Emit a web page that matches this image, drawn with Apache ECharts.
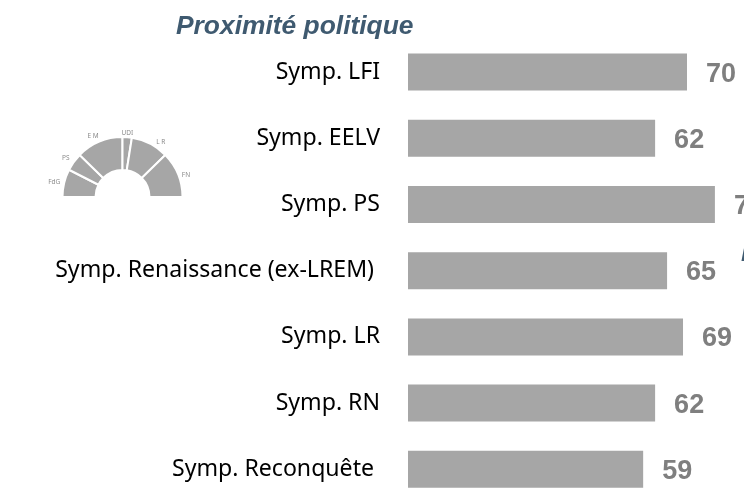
<!DOCTYPE html>
<html><head><meta charset="utf-8">
<style>html,body{margin:0;padding:0;background:#fff}#c{width:744px;height:490px}</style>
<script src="https://cdn.jsdelivr.net/npm/echarts@6/dist/echarts.min.js"></script>
</head><body><div id="c"></div>
<script>
const categories=["Symp. LFI","Symp. EELV","Symp. PS","Symp. Renaissance (ex-LREM)","Symp. LR","Symp. RN","Symp. Reconquête"];
const values=[70,62,77,65,69,62,59];
const labelShift=[0,0,0,6,0,0,6];
const partyNames=["FdG","PS","E M","UDI","L R","FN"];
const partySeats=[27,17.5,45.5,9,36.5,44.5];
const partyLabelNudge=[[5,0],[4,-1],[6,-2],[-11,0],[-7,-5],[0,2]];
const chart=echarts.init(document.getElementById('c'),null,{renderer:'canvas'});
const titleStyle={fontFamily:'Liberation Sans',fontSize:26.4,fontWeight:'bold',fontStyle:'italic',color:'#3f5a70'};
chart.setOption({
 animation:false,
 backgroundColor:'#fff',
 title:[
  {text:'Proximité politique',left:171,top:9,textStyle:titleStyle},
  {text:'P',left:736,top:236,textStyle:titleStyle}
 ],
 grid:{left:408,top:39,width:336,height:463.4,outerBoundsMode:'none'},
 xAxis:{type:'value',min:0,max:84.3,show:false},
 yAxis:{type:'category',inverse:true,
  data:categories.map((c,i)=>({value:c,textStyle:{padding:[0,labelShift[i],0,0]}})),
  axisLine:{show:false},axisTick:{show:false},
  axisLabel:{margin:28,color:'#000',fontFamily:'Noto Sans',fontSize:23.1}},
 series:[
  {type:'bar',data:values,barWidth:37,itemStyle:{color:'#a6a6a6'},
   label:{show:true,position:'right',distance:18,offset:[1,2],fontFamily:'Liberation Sans',fontSize:27,fontWeight:'bold',color:'#7f7f7f'}},
  {type:'pie',center:[122.5,197],radius:[27,60],startAngle:180,endAngle:0,sort:null,silent:true,
   data:partySeats.map((v,i)=>({name:partyNames[i],value:v,label:{offset:partyLabelNudge[i]}})),
   itemStyle:{color:'#a6a6a6',borderColor:'#fff',borderWidth:2},
   label:{show:true,position:'outside',fontFamily:'Noto Sans',fontSize:6.5,color:'#8c8c8c',formatter:'{b}'},
   labelLine:{show:false,length:4,length2:0}}
 ]
});
</script></body></html>
